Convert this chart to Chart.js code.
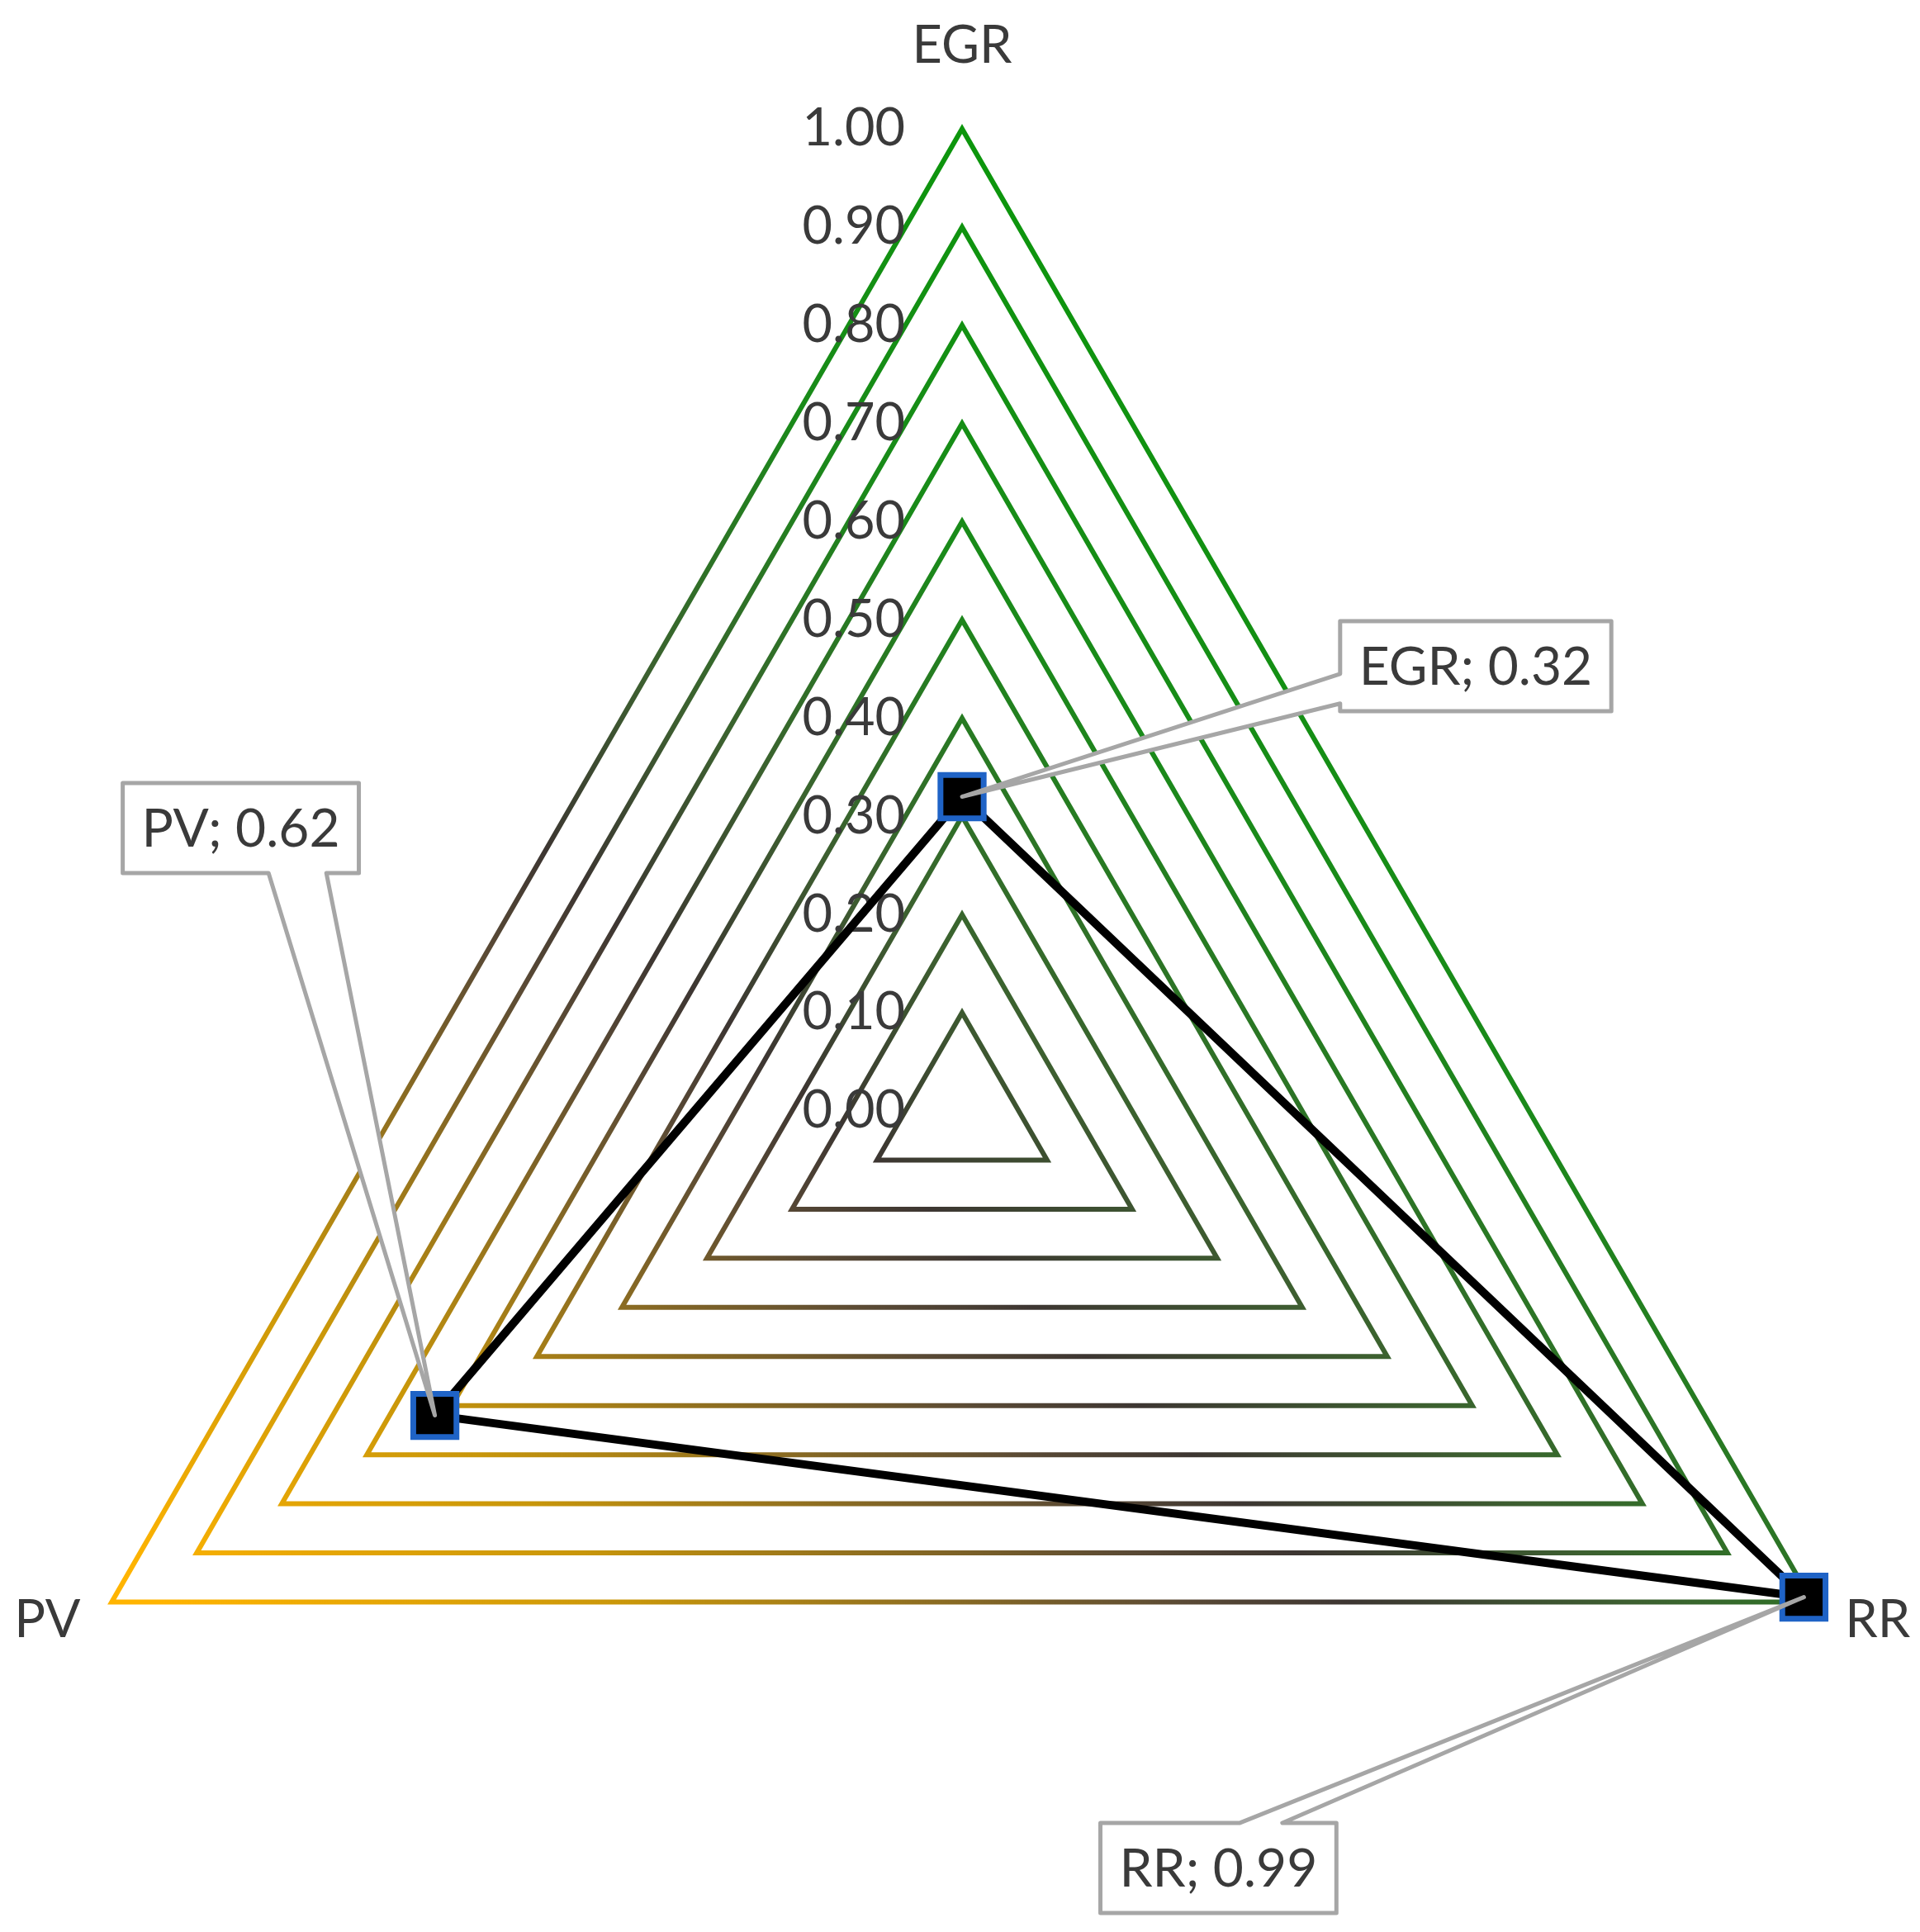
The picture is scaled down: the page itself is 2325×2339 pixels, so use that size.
<!DOCTYPE html>
<html>
<head>
<meta charset="utf-8">
<script src="https://cdn.jsdelivr.net/npm/chart.js@4.4.1/dist/chart.umd.min.js"></script>
<style>
  html, body { margin: 0; padding: 0; background: #fff; }
  #wrap { width: 2325px; height: 2339px; position: relative; }
</style>
</head>
<body>
<div id="wrap"><canvas id="chart"></canvas></div>
<script>
// Data
const axisLabels = ['EGR', 'RR', 'PV'];
const seriesValues = [0.32, 0.99, 0.62];
const tickLabels = ['0.00', '0.10', '0.20', '0.30', '0.40', '0.50', '0.60', '0.70', '0.80', '0.90', '1.00'];

const fontFamily = 'Lato, "Open Sans", sans-serif';
const textColor = '#3a3a3a';

// where each data label box sits relative to its point, and where the callout leaves the box
const calloutLayout = [
    { dx: 622, dy: -158, side: 'left', at: 0.75, half: 18 },   // EGR
    { dx: -709, dy: 328, side: 'top', at: 0.68, half: 26 },    // RR
    { dx: -235, dy: -711, side: 'bottom', at: 0.74, half: 35 } // PV
];
// axis label offsets from the outer vertex
const axisLabelOffset = [[0, -100], [79, 22], [-78, 22]];

// amber -> dark grey -> green gradient across the whole web
function gridGradient(chart) {
    const s = chart.scales.r;
    if (!s || !isFinite(s.drawingArea)) return '#404040';
    const r = s.drawingArea, cx = s.xCenter, cy = s.yCenter;
    const g = chart.ctx.createLinearGradient(cx - 0.630 * r, cy + 0.675 * r, cx + 0.499 * r, cy - 0.534 * r);
    g.addColorStop(0, '#ffb400');
    g.addColorStop(0.2, '#c8960a');
    g.addColorStop(0.43, '#5a4a35');
    g.addColorStop(0.5, '#3d3632');
    g.addColorStop(0.62, '#3d6030');
    g.addColorStop(0.8, '#1a8a1a');
    g.addColorStop(1, '#0c960c');
    return g;
}

const labelsPlugin = {
    id: 'labels',
    beforeDatasetsDraw(chart) {
        const ctx = chart.ctx;
        const s = chart.scales.r;
        ctx.save();
        ctx.fillStyle = textColor;
        ctx.font = `63px ${fontFamily}`;
        ctx.textBaseline = 'middle';

        // tick labels, left of the vertical axis
        ctx.textAlign = 'right';
        tickLabels.forEach(label => {
            const d = s.getDistanceFromCenterForValue(parseFloat(label));
            ctx.fillText(label, s.xCenter - 69, s.yCenter - d);
        });

        // axis names
        ctx.textAlign = 'center';
        axisLabels.forEach((label, i) => {
            const p = s.getPointPosition(i, s.drawingArea);
            ctx.fillText(label, p.x + axisLabelOffset[i][0], p.y + axisLabelOffset[i][1]);
        });
        ctx.restore();
    },
    afterDatasetsDraw(chart) {
        const ctx = chart.ctx;
        const meta = chart.getDatasetMeta(0);
        ctx.save();
        ctx.font = `64px ${fontFamily}`;
        meta.data.forEach((pt, i) => {
            const lay = calloutLayout[i];
            const text = `${axisLabels[i]}; ${seriesValues[i].toFixed(2)}`;
            const w = ctx.measureText(text).width + 46;
            const h = 109;
            const cx = pt.x + lay.dx, cy = pt.y + lay.dy;
            const x0 = cx - w / 2, x1 = cx + w / 2, y0 = cy - h / 2, y1 = cy + h / 2;

            ctx.beginPath();
            ctx.moveTo(x0, y0);
            if (lay.side === 'top') {
                const bx = x0 + lay.at * w;
                ctx.lineTo(bx - lay.half, y0);
                ctx.lineTo(pt.x, pt.y);
                ctx.lineTo(bx + lay.half, y0);
            }
            ctx.lineTo(x1, y0);
            ctx.lineTo(x1, y1);
            if (lay.side === 'bottom') {
                const bx = x0 + lay.at * w;
                ctx.lineTo(bx + lay.half, y1);
                ctx.lineTo(pt.x, pt.y);
                ctx.lineTo(bx - lay.half, y1);
            }
            ctx.lineTo(x0, y1);
            if (lay.side === 'left') {
                const by = y0 + lay.at * h;
                ctx.lineTo(x0, by + lay.half);
                ctx.lineTo(pt.x, pt.y);
                ctx.lineTo(x0, by - lay.half);
            }
            ctx.closePath();
            ctx.fillStyle = '#ffffff';
            ctx.fill();
            ctx.lineWidth = 5;
            ctx.lineJoin = 'round';
            ctx.strokeStyle = '#a6a6a6';
            ctx.stroke();

            ctx.fillStyle = textColor;
            ctx.textAlign = 'center';
            ctx.textBaseline = 'middle';
            ctx.fillText(text, cx, cy + 2);
        });
        ctx.restore();
    }
};

function setupChart() {
    const ctx = document.getElementById('chart').getContext('2d');
    return new Chart(ctx, {
        type: 'radar',
        data: {
            labels: axisLabels,
            datasets: [{
                data: seriesValues,
                borderColor: '#000000',
                borderWidth: 10,
                backgroundColor: 'rgba(0,0,0,0)',
                fill: false,
                pointStyle: 'rect',
                pointRadius: 37,
                pointBorderWidth: 7,
                pointBorderColor: '#1f63c6',
                pointBackgroundColor: '#000000'
            }]
        },
        options: {
            responsive: true,
            maintainAspectRatio: false,
            devicePixelRatio: 1,
            animation: false,
            layout: { padding: 0 },
            plugins: {
                legend: { display: false },
                tooltip: { enabled: false }
            },
            elements: { line: { tension: 0, borderWidth: 10 } },
            scales: {
                r: {
                    min: 0,
                    max: 1,
                    ticks: { stepSize: 0.1, display: false },
                    grid: {
                        circular: false,
                        lineWidth: 6,
                        color: (c) => gridGradient(c.chart)
                    },
                    angleLines: { display: false },
                    pointLabels: { display: false },
                    // place the web like the original (it overflows the canvas circle)
                    afterFit: (scale) => {
                        const w = scale.chart.width, h = scale.chart.height;
                        scale.xCenter = Math.round(w * 0.501);
                        scale.yCenter = Math.round(h * 0.575);
                        scale.drawingArea = Math.round(w * 0.5114);
                    }
                }
            }
        },
        plugins: [labelsPlugin]
    });
}

let chart;
document.addEventListener('DOMContentLoaded', () => {
    chart = setupChart();
});
</script>
</body>
</html>
